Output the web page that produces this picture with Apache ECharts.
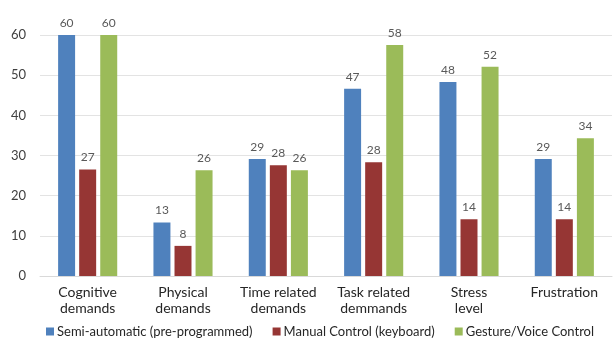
<!DOCTYPE html>
<html>
<head>
<meta charset="utf-8">
<script src="https://cdn.jsdelivr.net/npm/echarts@6/dist/echarts.min.js"></script>
<style>
  html, body { margin: 0; padding: 0; background: #fff; }
  #chart { width: 614px; height: 341px; }
</style>
</head>
<body>
<div id="chart"></div>
<script>
// categories and values
var categories = ['Cognitive\ndemands', 'Physical\ndemands', 'Time related\ndemands', 'Task related\ndemmands', 'Stress\nlevel', 'Frustration'];
var semiAuto = [60, 13.3, 29.1, 46.6, 48.3, 29.1];
var manual = [26.5, 7.5, 27.6, 28.3, 14.1, 14.1];
var gesture = [60, 26.3, 26.3, 57.5, 52.1, 34.3];
var yTicks = [0, 10, 20, 30, 40, 50, 60];

var fontFam = 'Lato, "Open Sans", sans-serif';
var colorList = ['#4F81BD', '#963634', '#9BBB59'];

var myChart = echarts.init(document.getElementById('chart'));

function mkSeries(name, data) {
    return {
        name: name,
        type: 'bar',
        data: data,
        barGap: '24%',
        barCategoryGap: '38%',
        label: {
            show: true,
            position: 'top',
            distance: 6,
            color: '#595959',
            fontSize: 12,
            fontFamily: fontFam,
            formatter: function (p) { return Math.round(p.value); }
        }
    };
}

var option = {
    backgroundColor: '#fff',
    color: colorList,
    animation: false,
    grid: { left: 40, right: 2, top: 35, bottom: 65 },
    legend: {
        bottom: 3,
        left: 46,
        width: 566,
        padding: 0,
        itemWidth: 8,
        itemHeight: 8,
        itemGap: 20,
        icon: 'rect',
        textStyle: { color: '#262626', fontSize: 13, fontFamily: fontFam, padding: [0, 0, 0, -2] },
        data: ['Semi-automatic (pre-programmed)', 'Manual Control (keyboard)', 'Gesture/Voice Control']
    },
    xAxis: {
        type: 'category',
        data: categories,
        axisLine: { lineStyle: { color: '#d9d9d9' } },
        axisTick: { show: false },
        axisLabel: { color: '#262626', fontSize: 14, fontFamily: fontFam, lineHeight: 16, margin: 8, interval: 0 }
    },
    yAxis: {
        type: 'value',
        min: yTicks[0],
        max: yTicks[yTicks.length - 1],
        interval: 10,
        axisLine: { show: false },
        axisTick: { show: false },
        splitLine: { lineStyle: { color: '#e3e3e3' } },
        axisLabel: { color: '#404040', fontSize: 13, fontFamily: fontFam, margin: 14 }
    },
    series: [
        mkSeries('Semi-automatic (pre-programmed)', semiAuto),
        mkSeries('Manual Control (keyboard)', manual),
        mkSeries('Gesture/Voice Control', gesture)
    ]
};

myChart.setOption(option);
</script>
</body>
</html>
